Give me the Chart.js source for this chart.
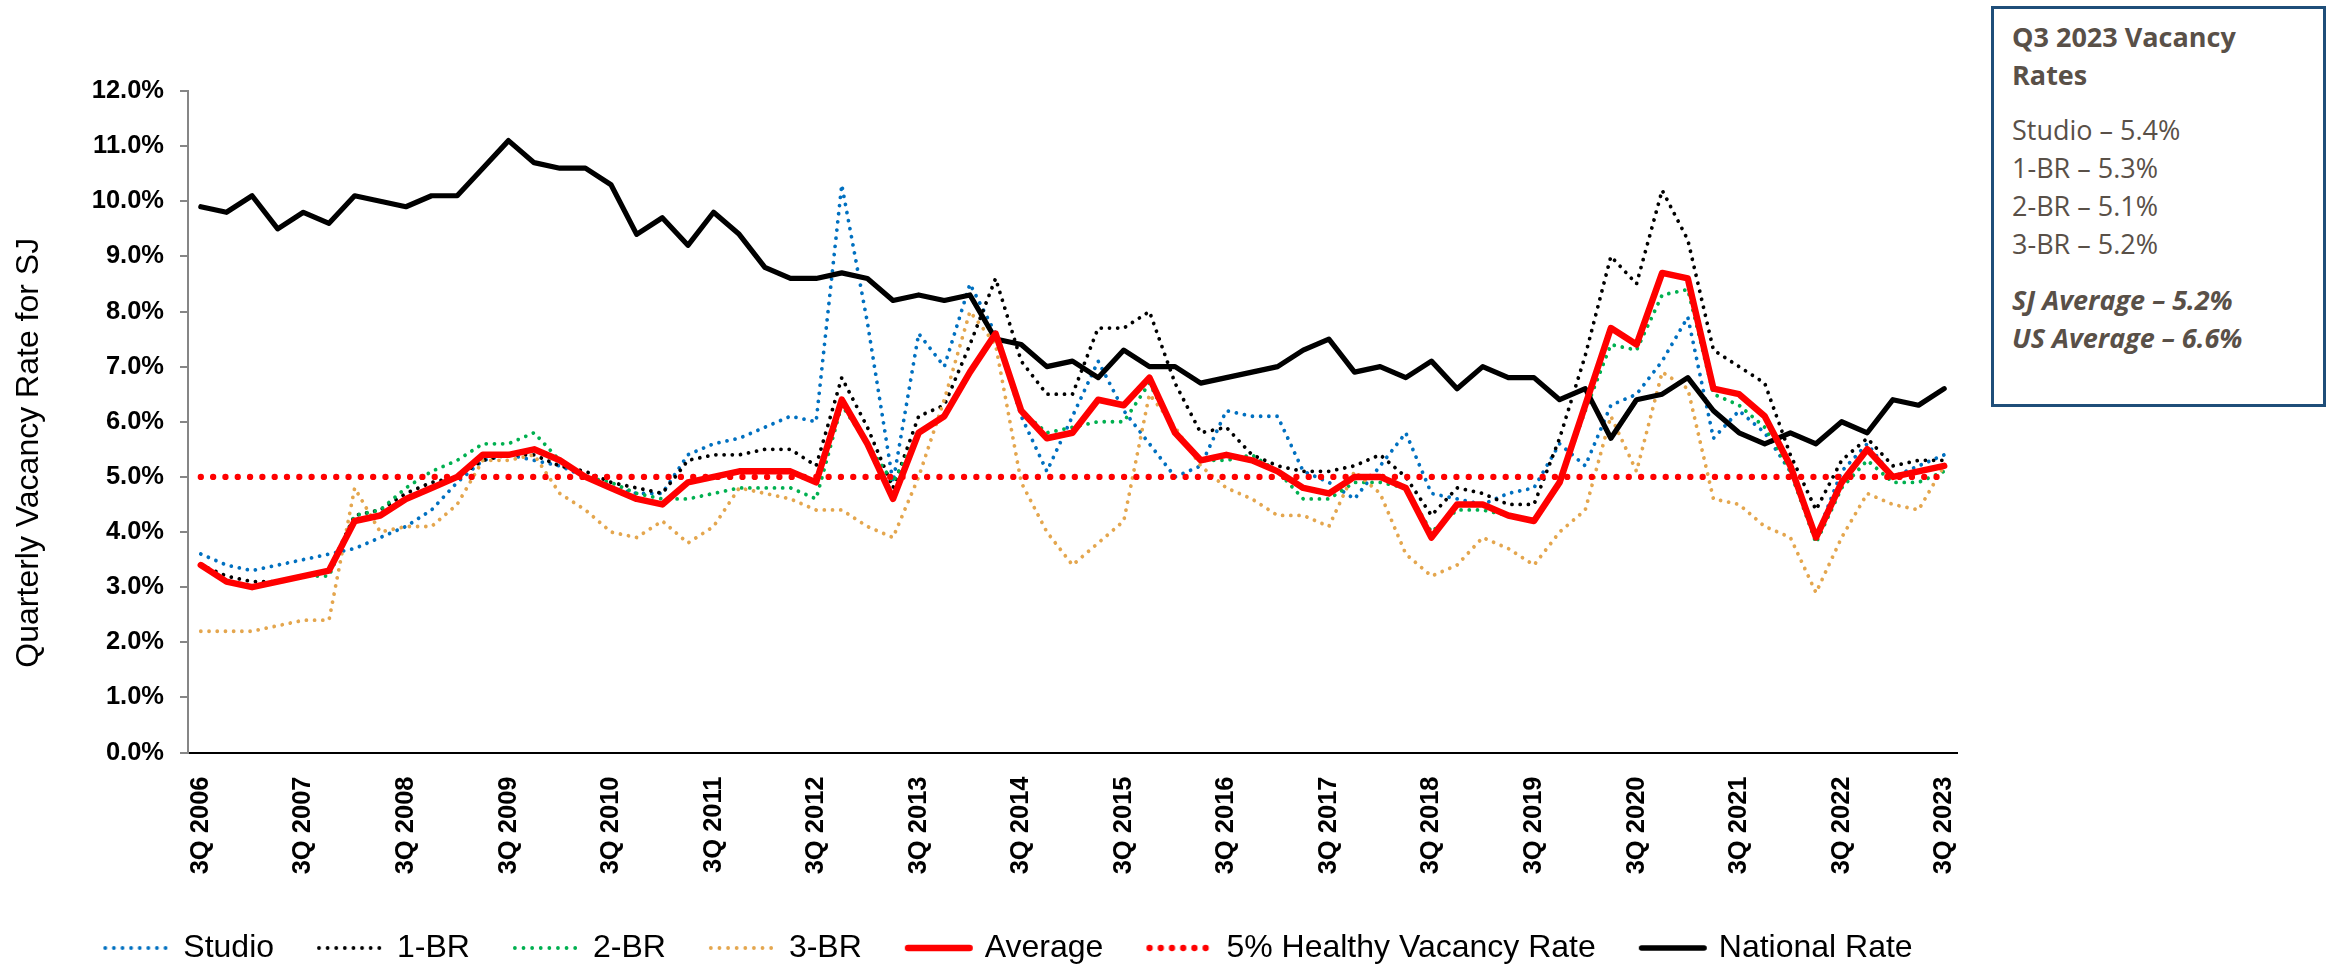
<!DOCTYPE html>
<html>
<head>
<meta charset="utf-8">
<script src="https://cdn.jsdelivr.net/npm/chart.js@4.4.0/dist/chart.umd.min.js"></script>
<style>
  body { margin: 0; background: #fff; width: 2328px; height: 966px; position: relative; overflow: hidden; }
  #chart { position: absolute; left: 0; top: 0; }
  .note {
    position: absolute; left: 1991px; top: 6px; width: 335px; height: 401px;
    box-sizing: border-box; border: 3px solid #1F4E79; background: #fff;
    padding: 9px 0 0 18px; color: #595048;
    font-family: 'Open Sans', sans-serif; font-size: 27px; line-height: 38px;
  }
  .note .title { font-weight: bold; }
  .note .group { margin-top: 17px; }
  .note .avg { font-weight: bold; font-style: italic; margin-top: 18px; }
</style>
</head>
<body>
<canvas id="chart" width="2020" height="966"></canvas>
<div class="note">
  <div class="title">Q3 2023 Vacancy<br>Rates</div>
  <div class="group">Studio – 5.4%<br>1-BR – 5.3%<br>2-BR – 5.1%<br>3-BR – 5.2%</div>
  <div class="avg">SJ Average – 5.2%<br>US Average – 6.6%</div>
</div>
<script>
// quarters, 3Q 2006 .. 3Q 2023
const quarters = [
  '3Q 2006', '4Q 2006',
  '1Q 2007', '2Q 2007', '3Q 2007', '4Q 2007',
  '1Q 2008', '2Q 2008', '3Q 2008', '4Q 2008',
  '1Q 2009', '2Q 2009', '3Q 2009', '4Q 2009',
  '1Q 2010', '2Q 2010', '3Q 2010', '4Q 2010',
  '1Q 2011', '2Q 2011', '3Q 2011', '4Q 2011',
  '1Q 2012', '2Q 2012', '3Q 2012', '4Q 2012',
  '1Q 2013', '2Q 2013', '3Q 2013', '4Q 2013',
  '1Q 2014', '2Q 2014', '3Q 2014', '4Q 2014',
  '1Q 2015', '2Q 2015', '3Q 2015', '4Q 2015',
  '1Q 2016', '2Q 2016', '3Q 2016', '4Q 2016',
  '1Q 2017', '2Q 2017', '3Q 2017', '4Q 2017',
  '1Q 2018', '2Q 2018', '3Q 2018', '4Q 2018',
  '1Q 2019', '2Q 2019', '3Q 2019', '4Q 2019',
  '1Q 2020', '2Q 2020', '3Q 2020', '4Q 2020',
  '1Q 2021', '2Q 2021', '3Q 2021', '4Q 2021',
  '1Q 2022', '2Q 2022', '3Q 2022', '4Q 2022',
  '1Q 2023', '2Q 2023', '3Q 2023'
];

// only every 3Q gets a tick label
const tickLabels = ['3Q 2006', '3Q 2007', '3Q 2008', '3Q 2009', '3Q 2010', '3Q 2011',
  '3Q 2012', '3Q 2013', '3Q 2014', '3Q 2015', '3Q 2016', '3Q 2017', '3Q 2018',
  '3Q 2019', '3Q 2020', '3Q 2021', '3Q 2022', '3Q 2023'];

const studio = [
  3.6, 3.4, 3.3, 3.4, 3.5, 3.6, 3.7, 3.9, 4.1, 4.4,
  4.9, 5.3, 5.4, 5.3, 5.2, 5.0, 4.8, 4.7, 4.7, 5.4,
  5.6, 5.7, 5.9, 6.1, 6.0, 10.3, 7.8, 4.9, 7.6, 7.0,
  8.5, 7.6, 6.1, 5.1, 6.1, 7.1, 6.2, 5.6, 5.0, 5.2,
  6.2, 6.1, 6.1, 5.1, 4.9, 4.6, 5.2, 5.8, 4.7, 4.6,
  4.5, 4.7, 4.8, 5.6, 5.2, 6.3, 6.5, 7.1, 7.9, 5.7,
  6.2, 5.8, 5.1, 3.9, 5.1, 5.6, 5.0, 5.2, 5.4
];
const oneBR = [
  3.4, 3.2, 3.1, 3.1, 3.2, 3.3, 4.3, 4.4, 4.7, 4.9,
  5.0, 5.3, 5.4, 5.4, 5.2, 5.1, 4.9, 4.8, 4.7, 5.3,
  5.4, 5.4, 5.5, 5.5, 5.2, 6.8, 5.9, 4.8, 6.1, 6.3,
  7.4, 8.6, 7.1, 6.5, 6.5, 7.7, 7.7, 8.0, 6.7, 5.8,
  5.9, 5.4, 5.2, 5.1, 5.1, 5.2, 5.4, 5.0, 4.3, 4.8,
  4.7, 4.5, 4.5, 5.7, 7.2, 9.0, 8.5, 10.2, 9.3, 7.3,
  7.0, 6.7, 5.4, 4.4, 5.3, 5.7, 5.2, 5.3, 5.3
];
const twoBR = [
  3.4, 3.1, 3.0, 3.1, 3.2, 3.2, 4.3, 4.4, 4.8, 5.1,
  5.3, 5.6, 5.6, 5.8, 5.3, 5.0, 4.9, 4.7, 4.6, 4.6,
  4.7, 4.8, 4.8, 4.8, 4.6, 6.3, 5.6, 4.9, 5.8, 6.1,
  6.9, 7.6, 6.2, 5.8, 5.9, 6.0, 6.0, 6.7, 5.8, 5.3,
  5.3, 5.4, 5.1, 4.6, 4.6, 4.9, 4.9, 4.8, 4.0, 4.4,
  4.4, 4.3, 4.2, 4.9, 6.2, 7.4, 7.3, 8.3, 8.4, 6.5,
  6.3, 5.9, 5.1, 3.8, 4.8, 5.3, 4.9, 4.9, 5.1
];
const threeBR = [
  2.2, 2.2, 2.2, 2.3, 2.4, 2.4, 4.8, 4.0, 4.1, 4.1,
  4.5, 5.3, 5.3, 5.4, 4.7, 4.4, 4.0, 3.9, 4.2, 3.8,
  4.1, 4.8, 4.7, 4.6, 4.4, 4.4, 4.1, 3.9, 5.0, 6.4,
  8.0, 7.4, 4.9, 4.0, 3.4, 3.8, 4.2, 6.5, 5.9, 5.2,
  4.8, 4.6, 4.3, 4.3, 4.1, 5.1, 4.7, 3.6, 3.2, 3.4,
  3.9, 3.7, 3.4, 4.0, 4.4, 6.1, 5.1, 6.9, 6.6, 4.6,
  4.5, 4.1, 3.9, 2.9, 3.9, 4.7, 4.5, 4.4, 5.2
];
const average = [
  3.4, 3.1, 3.0, 3.1, 3.2, 3.3, 4.2, 4.3, 4.6, 4.8,
  5.0, 5.4, 5.4, 5.5, 5.3, 5.0, 4.8, 4.6, 4.5, 4.9,
  5.0, 5.1, 5.1, 5.1, 4.9, 6.4, 5.6, 4.6, 5.8, 6.1,
  6.9, 7.6, 6.2, 5.7, 5.8, 6.4, 6.3, 6.8, 5.8, 5.3,
  5.4, 5.3, 5.1, 4.8, 4.7, 5.0, 5.0, 4.8, 3.9, 4.5,
  4.5, 4.3, 4.2, 4.9, 6.3, 7.7, 7.4, 8.7, 8.6, 6.6,
  6.5, 6.1, 5.2, 3.9, 4.9, 5.5, 5.0, 5.1, 5.2
];
const healthy = [
  5, 5, 5, 5, 5, 5, 5, 5, 5, 5,
  5, 5, 5, 5, 5, 5, 5, 5, 5, 5,
  5, 5, 5, 5, 5, 5, 5, 5, 5, 5,
  5, 5, 5, 5, 5, 5, 5, 5, 5, 5,
  5, 5, 5, 5, 5, 5, 5, 5, 5, 5,
  5, 5, 5, 5, 5, 5, 5, 5, 5, 5,
  5, 5, 5, 5, 5, 5, 5, 5, 5
];
const national = [
  9.9, 9.8, 10.1, 9.5, 9.8, 9.6, 10.1, 10.0, 9.9, 10.1,
  10.1, 10.6, 11.1, 10.7, 10.6, 10.6, 10.3, 9.4, 9.7, 9.2,
  9.8, 9.4, 8.8, 8.6, 8.6, 8.7, 8.6, 8.2, 8.3, 8.2,
  8.3, 7.5, 7.4, 7.0, 7.1, 6.8, 7.3, 7.0, 7.0, 6.7,
  6.8, 6.9, 7.0, 7.3, 7.5, 6.9, 7.0, 6.8, 7.1, 6.6,
  7.0, 6.8, 6.8, 6.4, 6.6, 5.7, 6.4, 6.5, 6.8, 6.2,
  5.8, 5.6, 5.8, 5.6, 6.0, 5.8, 6.4, 6.3, 6.6
];

const FONT = "'Liberation Sans', Arial, sans-serif";

// little line samples for the legend (legend point styles ignore dashes)
function sample(color, width, dash) {
  const c = document.createElement('canvas');
  c.width = 70;
  c.height = 14;
  const g = c.getContext('2d');
  g.strokeStyle = color;
  g.lineWidth = width;
  g.lineCap = 'round';
  g.setLineDash(dash);
  g.beginPath();
  g.moveTo(width / 2 + 1, 7);
  g.lineTo(70 - width / 2 - 1, 7);
  g.stroke();
  return c;
}

function dotted(label, data, color, order) {
  return {
    label: label, data: data, borderColor: color, backgroundColor: color,
    borderWidth: 3.8, borderDash: [0.01, 8.2], borderCapStyle: 'round',
    pointRadius: 0, pointHoverRadius: 0, tension: 0, order: order,
    pointStyle: sample(color, 3.8, [0.01, 8.6])
  };
}

// y axis title drawn by hand so it can sit a bit below centre like the original
const yTitle = {
  id: 'yTitle',
  afterDraw(chart) {
    const ctx = chart.ctx;
    const area = chart.chartArea;
    ctx.save();
    ctx.translate(29, (area.top + area.bottom) / 2 + 31);
    ctx.rotate(-Math.PI / 2);
    ctx.font = '32px ' + FONT;
    ctx.fillStyle = '#000';
    ctx.textAlign = 'center';
    ctx.textBaseline = 'middle';
    ctx.fillText('Quarterly Vacancy Rate for SJ', 0, 0);
    ctx.restore();
  }
};

const ctx = document.getElementById('chart').getContext('2d');
new Chart(ctx, {
  type: 'line',
  data: {
    labels: quarters,
    datasets: [
      dotted('Studio', studio, '#0070C0', 7),
      dotted('1-BR', oneBR, '#000000', 6),
      dotted('2-BR', twoBR, '#00B050', 5),
      dotted('3-BR', threeBR, '#E4A64E', 4),
      {
        label: 'Average', data: average, borderColor: '#FF0000', backgroundColor: '#FF0000',
        borderWidth: 6.5, borderCapStyle: 'round', borderJoinStyle: 'round',
        pointRadius: 0, pointHoverRadius: 0, tension: 0, order: 1,
        pointStyle: sample('#FF0000', 6.5, [])
      },
      {
        label: '5% Healthy Vacancy Rate', data: healthy, borderColor: '#FF0000', backgroundColor: '#FF0000',
        borderWidth: 6.3, borderDash: [0.01, 12.3], borderCapStyle: 'round',
        pointRadius: 0, pointHoverRadius: 0, tension: 0, order: 3,
        pointStyle: sample('#FF0000', 6.3, [0.01, 11.2])
      },
      {
        label: 'National Rate', data: national, borderColor: '#000000', backgroundColor: '#000000',
        borderWidth: 5.2, borderCapStyle: 'round', borderJoinStyle: 'round',
        pointRadius: 0, pointHoverRadius: 0, tension: 0, order: 2,
        pointStyle: sample('#000000', 5.5, [])
      }
    ]
  },
  options: {
    responsive: false,
    animation: false,
    layout: { padding: { top: 91, left: 0, right: 0, bottom: -8 } },
    plugins: {
      tooltip: { enabled: false },
      legend: {
        position: 'bottom',
        labels: {
          font: { family: FONT, size: 32 },
          color: '#000',
          usePointStyle: true,
          pointStyleWidth: 60,
          padding: 47,
          sort: (a, b) => a.datasetIndex - b.datasetIndex
        }
      }
    },
    scales: {
      x: {
        type: 'category',
        offset: true,
        grid: { display: false },
        border: { display: true, color: '#000', width: 2 },
        ticks: {
          autoSkip: false,
          maxRotation: 90,
          minRotation: 90,
          padding: 16,
          color: '#000',
          font: { family: FONT, size: 25.5, weight: 'bold' },
          callback: function(val, i) {
            const q = quarters[i];
            return tickLabels.includes(q) ? q : '';
          }
        },
        afterFit: s => { s.height = 132.5; }
      },
      y: {
        min: 0,
        max: 12,
        grid: { display: true, drawOnChartArea: false, drawTicks: true, tickLength: 8, color: '#868686', lineWidth: 2 },
        border: { display: true, color: '#868686', width: 2 },
        ticks: {
          stepSize: 1,
          padding: 16,
          color: '#000',
          font: { family: FONT, size: 25.5, weight: 'bold' },
          callback: v => v.toFixed(1) + '%'
        },
        afterFit: s => { s.width = 188; }
      },
      y2: {
        type: 'linear',
        position: 'right',
        display: true,
        grid: { display: false },
        border: { display: false },
        ticks: { display: false },
        afterFit: s => { s.width = 63; }
      }
    }
  },
  plugins: [yTitle]
});
</script>
</body>
</html>
